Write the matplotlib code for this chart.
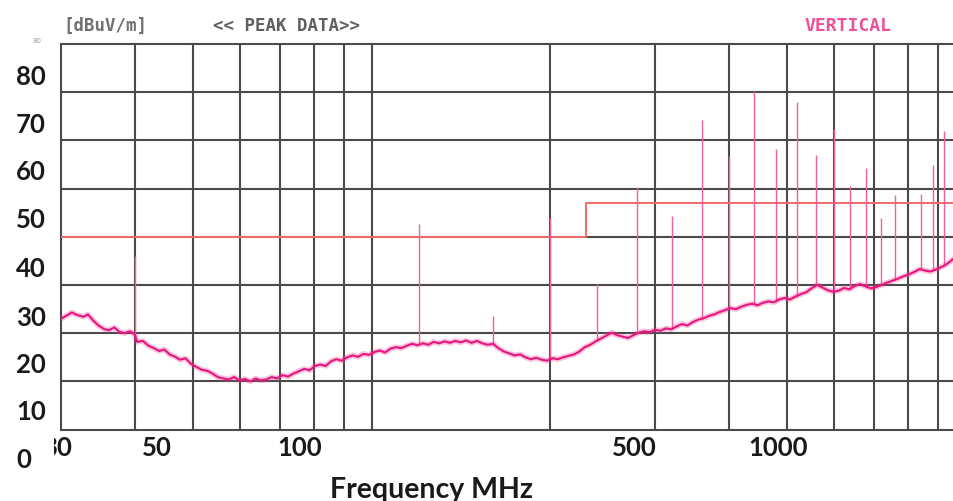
import matplotlib
matplotlib.use("Agg")
import matplotlib.pyplot as plt
from matplotlib.transforms import Bbox, TransformedBbox

# noise floor of the scan (MHz, dBuV/m)
floor_freq = [
    30.0, 30.6, 31.3, 31.9, 32.7, 33.3, 34.0, 34.7, 35.4, 36.1, 36.9, 37.6, 38.4, 39.2, 39.9,
    40.3, 41.2, 42.1, 43.0, 43.9, 44.8, 45.7, 46.7, 47.6, 48.6, 49.7, 50.7, 51.8, 52.9, 54.0,
    55.1, 56.3, 57.5, 58.7, 59.9, 61.2, 62.5, 63.8, 65.1, 66.5, 67.9, 69.3, 70.8, 72.3, 73.8,
    75.4, 77.0, 78.6, 80.3, 82.0, 83.7, 85.5, 87.3, 89.1, 91.0, 92.9, 94.9, 96.9, 99.0, 101.1,
    103.2, 105.4, 107.6, 109.9, 112.2, 114.6, 117.0, 119.5, 122.0, 124.6, 127.2, 129.9, 132.7,
    135.5, 138.3, 141.3, 144.2, 147.3, 150.4, 153.6, 156.8, 160.1, 163.5, 167.0, 170.5, 174.1,
    177.8, 181.6, 185.4, 189.3, 193.3, 197.4, 201.6, 205.9, 210.2, 214.7, 219.2, 223.8, 228.5,
    233.4, 238.3, 243.4, 248.5, 253.7, 259.1, 264.6, 270.2, 275.9, 281.7, 287.7, 293.8, 300.0,
    306.3, 312.8, 319.4, 326.2, 333.1, 340.1, 347.3, 354.7, 362.2, 369.8, 377.6, 385.6, 393.8,
    402.1, 410.6, 419.3, 428.2, 437.2, 446.5, 455.9, 465.6, 475.4, 485.5, 495.7, 506.2, 516.9,
    527.9, 539.0, 550.4, 562.1, 574.0, 586.1, 598.5, 611.2, 624.1, 637.3, 650.8, 664.5, 678.6,
    692.9, 707.6, 722.6, 737.8, 753.5, 769.4, 785.7, 802.3, 819.3, 836.6, 854.3, 872.4, 890.8,
    909.7, 928.9, 948.6, 968.6, 989.1, 1000.0,
]
floor_level = [
    23.0, 23.6, 24.3, 23.8, 23.4, 23.9, 22.6, 21.6, 20.9, 20.6, 21.2, 20.3, 20.0, 20.4, 19.8,
    18.2, 18.4, 17.4, 16.9, 16.3, 16.6, 15.6, 15.1, 14.5, 14.8, 13.6, 13.0, 12.4, 12.2, 11.6,
    10.9, 10.6, 10.4, 10.9, 10.2, 10.5, 10.0, 10.6, 10.2, 10.4, 10.9, 10.6, 11.3, 11.0, 11.6,
    12.1, 12.6, 12.3, 13.2, 13.5, 13.2, 14.2, 14.6, 14.3, 15.0, 15.4, 15.1, 15.7, 15.5, 16.1,
    16.4, 16.0, 16.8, 17.1, 16.9, 17.4, 17.8, 17.5, 17.9, 17.6, 18.2, 17.9, 18.3,
    18.0, 18.4, 18.1, 18.5, 18.0, 18.4, 17.9, 17.6, 17.8, 16.9, 16.2, 15.8, 15.4,
    15.6, 15.0, 14.6, 14.9, 14.5, 14.3, 14.8, 14.6, 15.0, 15.3, 15.6, 16.2, 17.1,
    17.6, 18.3, 18.9, 19.5, 20.1, 19.6, 19.3, 19.0, 19.6, 20.1, 20.4, 20.2, 20.7,
    20.5, 21.0, 20.8, 21.4, 21.9, 21.6, 22.3, 22.8, 23.1, 23.6, 23.9, 24.4, 24.8,
    25.2, 25.0, 25.5, 25.9, 26.1, 25.8, 26.3, 26.6, 26.4, 27.0, 27.3, 27.0, 27.6,
    28.1, 28.5, 29.3, 30.0, 29.5, 28.9, 28.6, 28.8, 29.4, 29.1, 29.8, 30.2, 29.7,
    29.3, 29.6, 30.0, 30.5, 30.9, 31.3, 31.8, 32.2, 32.7, 33.3, 33.0, 32.8, 33.2,
    33.7, 34.3, 35.2, 36.0, 36.6, 37.0,
]

# narrow-band emissions (peaks)
spike_freq = [40, 120, 160, 200, 240, 280, 320, 360, 400, 440, 480, 520, 560, 600,
              640, 680, 720, 760, 840, 880, 920, 955]
spike_peak = [36.0, 42.6, 23.6, 44.0, 30.3, 50.3, 44.4, 64.2, 56.8, 70.2, 58.2, 67.9, 57.0, 62.4,
              50.6, 54.2, 44.0, 48.6, 48.9, 54.9, 62.0, 60.3]
spike_base = [19.0, 17.8, 17.6, 14.8, 18.5, 20.0, 21.0, 23.0, 25.0, 26.0, 26.5, 27.5, 29.9, 28.7,
              29.2, 29.7, 30.0, 31.0, 33.3, 32.9, 34.0, 35.2]

# limit line
limit_freq = [30, 230, 230, 1000]
limit_level = [40, 40, 47, 47]

grid_x = [40, 50, 60, 70, 80, 90, 100, 200, 300, 400, 500, 600, 700, 800, 900]
grid_y = [10, 20, 30, 40, 50, 60, 70]

# overlay labels (as they appear on the picture)
ylab_text = ["80", "70", "60", "50", "40", "30", "20", "10", "0"]
ylab_pos = [77, 125, 172, 220, 269, 318, 365, 412, 460]
xlab_text = ["50", "100", "500", "1000"]
xlab_pos = [157, 300, 634, 778]

W, H = 954, 502
fig = plt.figure(figsize=(W / 100, H / 100), dpi=100)
ax = fig.add_axes([61 / W, 1 - 430.6 / H, (965.6 - 61) / W, (430.6 - 45) / H])

ax.set_xscale("log")
ax.set_xlim(30, 1000)
ax.set_ylim(0, 80)
ax.set_xticks(grid_x)
ax.set_xticks([], minor=True)
ax.set_yticks(grid_y)
ax.tick_params(which="both", length=0, labelbottom=False, labelleft=False)
ax.grid(True, color="#4a4a4a", linewidth=1.5)
ax.set_axisbelow(True)
for s in ax.spines.values():
    s.set_color("#4a4a4a")
    s.set_linewidth(1.5)
ax.spines["right"].set_visible(False)

ax.plot(limit_freq, limit_level, color="#ef6b6b", linewidth=1.4, zorder=3)
ax.vlines(spike_freq, spike_base, spike_peak, color="#f0609f", linewidth=1.0, zorder=4)
# soft band around the trace to mimic the noisy envelope
ax.plot(floor_freq, floor_level, color="#ec3d8e", linewidth=4.0, alpha=0.3, zorder=5)
ax.plot(floor_freq, floor_level, color="#e8157f", linewidth=1.5, zorder=6)


def px(x, y):
    return x / W, 1 - y / H


# original chart captions
mono = "DejaVu Sans Mono"
fig.text(*px(63, 26), "[dBuV/m]", family=mono, fontsize=12.5, color="#707070",
         fontweight="bold", va="center")
fig.text(*px(213, 26), "<< PEAK DATA>>", family=mono, fontsize=12.5, color="#606060",
         fontweight="bold", va="center")
fig.text(*px(805, 26), "VERTICAL", family=mono, fontsize=13, color="#f0509a",
         fontweight="bold", va="center")
fig.text(*px(33, 41), "80", fontsize=5, color="#9a9a9a", va="center")

# overlay axis labels
lab = dict(family="Lato", fontweight="bold", color="#1a1a1a")
for t, y in zip(ylab_text, ylab_pos):
    fig.text(*px(16, y), t, ha="left", va="center", fontsize=18.5, **lab)
for t, x in zip(xlab_text, xlab_pos):
    fig.text(*px(x, 448), t, ha="center", va="center", fontsize=18.5, **lab)
t30 = fig.text(*px(72, 448), "30", ha="right", va="center", fontsize=18.5, **lab)
t30.set_clip_box(TransformedBbox(Bbox([[54 / W, 0], [1, 1]]), fig.transFigure))
t30.set_clip_on(True)
fig.text(*px(432, 490), "Frequency MHz", ha="center", va="center", fontsize=20.5, **lab)

fig.savefig("out.png", dpi=100)
